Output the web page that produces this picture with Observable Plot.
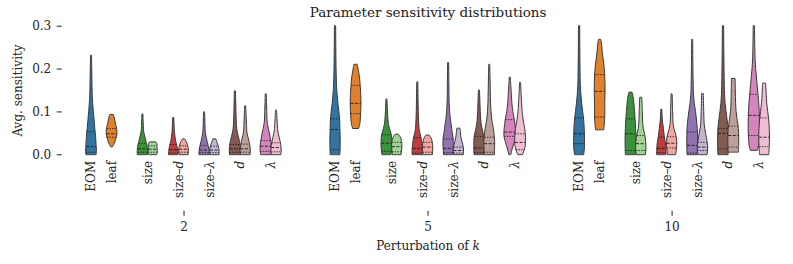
<!DOCTYPE html>
<html><head><meta charset="utf-8">
<script src="https://cdn.jsdelivr.net/npm/d3@7"></script>
<script src="https://cdn.jsdelivr.net/npm/@observablehq/plot@0.6"></script>
<style>html,body{margin:0;padding:0;background:#fff} svg{display:block}</style>
</head><body><div id="chart"></div>
<script>
// ---------------- DATA ----------------
const perturbations = ["2", "5", "10"];
const parameters = ["EOM", "leaf", "size", "size–d", "size–λ", "d", "λ"];
const paired = [false, false, true, true, true, true, true];
const darkColors = ["#3274a1", "#e1812c", "#3a923a", "#c03d3e", "#9372b2", "#845b53", "#d684bd"];
const lightColors = [null, null, "#9fd495", "#f2a5a3", "#c4b5d0", "#bea09a", "#efbed3"];
const yTicks = [0, 0.1, 0.2, 0.3];

// Violin order within each k: EOM, leaf, size(dark,light), size–d(dark,light), size–λ(dark,light), d(dark,light), λ(dark,light)
// Each profile: [sensitivity, relative density (width)]
const profiles_k2 = [
  [[0,10],[0.01,10.5],[0.02,10],[0.04,9],[0.06,7.5],[0.08,6],[0.1,4.5],[0.12,3.2],[0.14,2.3],[0.17,1.8],[0.2,1.4],[0.231,1]],
  [[0.018,2],[0.025,5],[0.035,8],[0.045,10],[0.055,10.5],[0.065,9],[0.075,7],[0.085,5.5],[0.093,3.5]],
  [[0,10],[0.01,10],[0.02,9],[0.03,7],[0.04,5],[0.05,3],[0.06,2],[0.075,1.5],[0.094,1]],
  [[0,8],[0.005,9],[0.012,8.5],[0.018,8.5],[0.024,8.5],[0.029,6]],
  [[0,9],[0.01,8.5],[0.02,7],[0.03,5],[0.04,3.5],[0.05,2.5],[0.06,2],[0.086,1]],
  [[0,9],[0.01,9.5],[0.02,8],[0.03,5],[0.036,2]],
  [[0,10],[0.01,9.5],[0.02,8],[0.03,6],[0.04,4],[0.05,2.5],[0.06,2],[0.08,1.5],[0.099,1]],
  [[0,9],[0.01,9],[0.02,7.5],[0.028,5],[0.036,3]],
  [[0,10.5],[0.01,11],[0.02,10.5],[0.03,9],[0.04,7],[0.05,5],[0.06,3.5],[0.08,2.5],[0.1,2],[0.125,1.5],[0.148,1]],
  [[0,9.5],[0.01,10],[0.02,9],[0.03,7.5],[0.04,5.5],[0.05,3.5],[0.07,2.5],[0.09,1.8],[0.113,1]],
  [[0,10],[0.01,11],[0.02,11],[0.03,10],[0.04,8.5],[0.05,7],[0.06,5],[0.07,3.5],[0.08,2.5],[0.1,2],[0.12,1.5],[0.141,1]],
  [[0,9.5],[0.01,10],[0.02,9.5],[0.03,8],[0.04,6],[0.05,4],[0.06,3],[0.08,2],[0.103,1]]
];
const quartiles_k2 = [
  [0.006,0.019,0.054],[0.041,0.049,0.061],[0.006,0.014,0.026],[0.006,0.013,0.021],
  [0.004,0.012,0.024],[0.006,0.013,0.021],[0.005,0.011,0.022],[0.005,0.011,0.02],
  [0.006,0.014,0.024],[0.006,0.014,0.025],[0.008,0.02,0.033],[0.007,0.017,0.028]
];
const profiles_k5 = [
  [[0,9.5],[0.02,10],[0.04,10],[0.06,9.5],[0.08,9],[0.1,7.5],[0.12,5.5],[0.14,4],[0.16,3],[0.2,2],[0.25,1.5],[0.3,1.2]],
  [[0.061,6],[0.07,8],[0.08,9],[0.1,10],[0.12,10.5],[0.14,10],[0.16,9],[0.18,7.5],[0.195,5.5],[0.205,4],[0.21,3]],
  [[0,9],[0.01,10],[0.02,10.5],[0.03,10.5],[0.04,10],[0.05,8.5],[0.06,6],[0.07,4],[0.08,3],[0.1,2],[0.129,1]],
  [[0,8.5],[0.01,9.5],[0.02,10],[0.03,9.5],[0.04,7],[0.047,3]],
  [[0,10],[0.01,10],[0.02,9.5],[0.03,8.5],[0.04,7],[0.05,5],[0.06,3.5],[0.08,2.5],[0.1,2],[0.13,1.5],[0.169,1]],
  [[0,9.5],[0.01,10],[0.02,10],[0.03,9],[0.04,6],[0.045,3]],
  [[0,9],[0.01,9.5],[0.02,10],[0.03,10],[0.04,9.5],[0.05,8],[0.06,7],[0.07,6],[0.08,4.5],[0.1,3],[0.12,2],[0.16,1.5],[0.214,1]],
  [[0,9.5],[0.01,10],[0.02,9],[0.03,7],[0.04,5],[0.05,4],[0.061,3]],
  [[0,9.5],[0.01,10],[0.02,10],[0.03,10],[0.04,9.5],[0.05,8],[0.06,6],[0.07,4.5],[0.08,3.5],[0.1,2.5],[0.125,1.8],[0.15,1]],
  [[0,10],[0.01,10],[0.02,10.5],[0.03,10.5],[0.04,10],[0.05,9],[0.06,8],[0.07,6.5],[0.08,5],[0.1,3.5],[0.12,2.5],[0.15,2],[0.18,1.5],[0.21,1]],
  [[0,2],[0.01,4],[0.02,6.5],[0.03,9],[0.04,11],[0.05,11.5],[0.06,11],[0.07,10],[0.08,9],[0.09,7.5],[0.1,6],[0.12,4],[0.14,3],[0.16,2],[0.18,1]],
  [[0,5],[0.01,8],[0.02,10],[0.03,10.5],[0.04,10.5],[0.05,10],[0.06,9],[0.07,7.5],[0.08,6],[0.09,5],[0.1,4],[0.12,3],[0.14,2],[0.168,1]]
];
const quartiles_k5 = [
  [0.012,0.059,0.084],[0.096,0.12,0.162],[0.008,0.027,0.047],[0.007,0.019,0.029],
  [0.004,0.015,0.04],[0.006,0.018,0.029],[0.005,0.015,0.037],[0.004,0.01,0.018],
  [0.005,0.016,0.043],[0.006,0.026,0.041],[0.043,0.053,0.082],[0.012,0.029,0.049]
];
const profiles_k10 = [
  [[0,9],[0.01,10],[0.02,10.5],[0.04,10.5],[0.06,10],[0.08,9],[0.1,7],[0.12,5],[0.14,3.5],[0.16,2.5],[0.2,1.8],[0.25,1.4],[0.3,1.2]],
  [[0.058,8],[0.07,9],[0.09,10],[0.12,10],[0.15,10.5],[0.18,10],[0.2,9],[0.22,7],[0.24,5],[0.26,3.5],[0.268,2]],
  [[0,10],[0.02,10.5],[0.04,10.5],[0.06,10],[0.08,9],[0.1,8],[0.12,6.5],[0.135,5],[0.145,3]],
  [[0,9],[0.01,10],[0.02,10],[0.03,9.5],[0.04,8.5],[0.05,7],[0.06,5],[0.07,4],[0.08,3.5],[0.1,3],[0.133,2]],
  [[0,9],[0.01,9],[0.02,8.5],[0.03,7.5],[0.04,6],[0.05,5],[0.06,4],[0.07,3],[0.08,2],[0.105,1]],
  [[0,8],[0.01,9],[0.02,10],[0.03,10],[0.04,9],[0.05,7],[0.06,4.5],[0.07,3],[0.08,2.5],[0.1,2],[0.141,1]],
  [[0,10],[0.02,10.5],[0.04,10.5],[0.06,10],[0.08,8.5],[0.1,6.5],[0.12,4],[0.14,2.5],[0.16,2],[0.2,1.5],[0.268,1]],
  [[0,9],[0.01,10],[0.02,10],[0.03,9],[0.04,7.5],[0.05,6],[0.06,4.5],[0.07,3.5],[0.08,3],[0.1,2.5],[0.142,1.5]],
  [[0,10],[0.02,10.5],[0.04,10.5],[0.06,10],[0.08,8],[0.1,6],[0.12,4],[0.14,3],[0.16,2.5],[0.2,2],[0.25,1.5],[0.3,1.2]],
  [[0.006,10],[0.02,10.5],[0.04,10.5],[0.06,10],[0.08,7.5],[0.1,5.5],[0.12,4.5],[0.15,4],[0.177,3.5]],
  [[0.01,7],[0.02,9],[0.04,10.5],[0.06,11],[0.08,11],[0.1,10.5],[0.12,9.5],[0.14,8],[0.16,6.5],[0.18,5],[0.2,3.5],[0.22,2.5],[0.25,1.8],[0.3,1.2]],
  [[0,9],[0.02,10],[0.04,10.5],[0.06,10],[0.08,9],[0.1,7],[0.12,5],[0.14,4],[0.166,3]]
];
const quartiles_k10 = [
  [0.026,0.049,0.086],[0.088,0.148,0.187],[0.01,0.049,0.084],[0.01,0.026,0.045],
  [0.005,0.015,0.041],[0.016,0.027,0.042],[0.004,0.022,0.053],[0.01,0.018,0.029],
  [0.014,0.05,0.061],[0.018,0.045,0.067],[0.045,0.092,0.141],[0.019,0.041,0.086]
];

// ---------------- LAYOUT ----------------
const SLOT = [0, 2, 5, 8, 11, 14, 17];   // slot of each parameter inside a k-group
const GROUP_STEP = 23.74;                // slots between k-groups
const GROUP_CENTER = 9;
const DENS = 0.05;                       // half-width (in slots) per density unit
const FONT = "DejaVu Serif";

const allProfiles = [profiles_k2, profiles_k5, profiles_k10];
const allQuartiles = [quartiles_k2, quartiles_k5, quartiles_k10];

const violins = [];
perturbations.forEach((k, gi) => {
  let vi = 0;
  parameters.forEach((p, pi) => {
    const shades = paired[pi] ? ["dark", "light"] : ["dark"];
    shades.forEach((s, si) => {
      violins.push({
        id: `${k}|${p}|${s}`,
        center: gi * GROUP_STEP + SLOT[pi] + si,
        profile: allProfiles[gi][vi],
        quart: allQuartiles[gi][vi],
        color: s === "dark" ? darkColors[pi] : lightColors[pi]
      });
      vi++;
    });
  });
});

function widthAt(profile, v) {
  if (v <= profile[0][0]) return profile[0][1];
  for (let i = 1; i < profile.length; i++) {
    if (v <= profile[i][0]) {
      const [v0, w0] = profile[i - 1], [v1, w1] = profile[i];
      return w0 + (w1 - w0) * (v - v0) / (v1 - v0);
    }
  }
  return profile[profile.length - 1][1];
}

const areaData = violins.flatMap(d => d.profile.map(([v, w]) => ({
  id: d.id, v, x1: d.center - w * DENS, x2: d.center + w * DENS, color: d.color
})));
const quartData = violins.flatMap(d => d.quart.map((q, qi) => {
  const w = widthAt(d.profile, q) * DENS * 0.95;
  return {v: q, x1: d.center - w, x2: d.center + w, median: qi === 1};
}));
const labelData = perturbations.flatMap((k, gi) => parameters.map((p, pi) => ({
  x: gi * GROUP_STEP + SLOT[pi] + (paired[pi] ? 0.5 : 0), text: p
})));
const groupTicks = perturbations.map((k, gi) => gi * GROUP_STEP + GROUP_CENTER);

const plot = Plot.plot({
  width: 793,
  height: 264,
  marginTop: 25.7,
  marginBottom: 109.7,
  marginLeft: 80.72,
  marginRight: 18.6,
  style: {fontFamily: FONT, fontSize: "12px", background: "#fff", color: "#222"},
  x: {domain: [-1, 2 * GROUP_STEP + 19]},
  y: {domain: [0, 0.3]},
  color: {type: "identity"},
  marks: [
    Plot.areaX(areaData, {y: "v", x1: "x1", x2: "x2", z: "id", fill: "color",
      stroke: "#3a3a3a", strokeWidth: 1, curve: "catmull-rom"}),
    Plot.ruleY(quartData.filter(d => !d.median), {y: "v", x1: "x1", x2: "x2",
      stroke: "#1a1a1a", strokeWidth: 0.9, strokeDasharray: "1.3,1.3"}),
    Plot.ruleY(quartData.filter(d => d.median), {y: "v", x1: "x1", x2: "x2",
      stroke: "#1a1a1a", strokeWidth: 0.9, strokeDasharray: "3,1.5"}),
    Plot.axisY(yTicks, {tickFormat: d3.format(".1f"), tickSize: 5, tickPadding: 6,
      dx: -19, label: null, fontSize: 12}),
    Plot.axisX(groupTicks, {tickFormat: (d, i) => perturbations[i], tickSize: 5,
      tickPadding: 6, dy: 56.5, label: null, fontSize: 12}),
    Plot.text(labelData, {x: "x", text: "text", frameAnchor: "bottom", rotate: -90,
      textAnchor: "end", lineAnchor: "middle", dy: 6, fontSize: 12, fill: "#222"}),
    Plot.text(["Avg. sensitivity"], {text: d => d, frameAnchor: "left", rotate: -90,
      textAnchor: "middle", lineAnchor: "middle", dx: -63, fontSize: 12, fill: "#222"}),
    Plot.text(["Parameter sensitivity distributions"], {text: d => d, frameAnchor: "top",
      textAnchor: "middle", lineAnchor: "middle", dy: -14, fontSize: 13.5, fill: "#222"}),
    Plot.text(["Perturbation of k"], {text: d => d, frameAnchor: "bottom",
      textAnchor: "middle", lineAnchor: "middle", dy: 91.7, fontSize: 12, fill: "#222"})
  ]
});

// italic math variables
const italicParts = {
  "size–d": ["size–", "d"], "size–λ": ["size–", "λ"], "d": ["", "d"], "λ": ["", "λ"],
  "Perturbation of k": ["Perturbation of ", "k"]
};
plot.querySelectorAll("text").forEach(t => {
  const parts = italicParts[t.textContent];
  if (!parts) return;
  while (t.firstChild) t.removeChild(t.firstChild);
  if (parts[0]) t.appendChild(document.createTextNode(parts[0]));
  const ts = document.createElementNS("http://www.w3.org/2000/svg", "tspan");
  ts.setAttribute("font-style", "italic");
  ts.textContent = parts[1];
  t.appendChild(ts);
});

document.getElementById("chart").appendChild(plot);
</script>
</body></html>
